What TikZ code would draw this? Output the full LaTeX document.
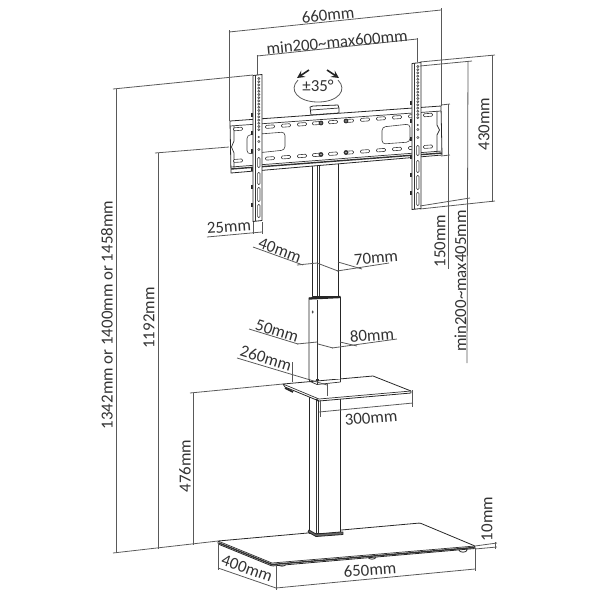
\documentclass[tikz,border=0pt]{standalone}
\usepackage{fontspec}
\setmainfont{Carlito}
\tikzstyle{part} = [draw=black!85, line width=0.45pt, fill=white, line join=round]
\tikzstyle{edge} = [draw=black!80, line width=0.4pt]
\tikzstyle{dark} = [draw=black!85, line width=1pt]
\tikzstyle{slot} = [draw=black!75, line width=0.35pt, rounded corners=0.6pt, fill=white]
\tikzstyle{dimline} = [draw=black!65, line width=0.45pt]
\tikzstyle{dimtext} = [inner sep=0pt, text=black!80, font=\fontsize{9.6}{11}\selectfont]
\tikzstyle{tiltarrow} = [draw=black!85, line width=0.9pt, ->, >=stealth]

\begin{document}
\begin{tikzpicture}[x=0.02cm, y=-0.02cm]
	\useasboundingbox (0,0) rectangle (600,600);

	% base and column
	\foreach \fx/\fy in {282/564, 372/557, 463/550}
		\draw [part] (\fx,\fy) circle [x radius=4, y radius=2.2];
	\draw [part, rounded corners=0.6pt] (218,541) -- (420,523) -- (475,546) -- (475,548.5) -- (272,566) -- (218,544) -- cycle;
	\draw [edge] (218,541) -- (272,563) -- (475,546);
	\draw [edge, line width=0.8pt] (219,543) -- (272,564.5) -- (474,547.5);

	\draw [part] (309,298) rectangle (340.5,533);
	\draw [edge] (316,345) -- (316,536);
	\draw [edge] (318,345) -- (318,536);
	\draw [edge] (317,300) -- (317,345);
	\draw [part, fill=black!60] (308,532) -- (316,536.5) -- (343,534.5) -- (343,532) -- (340,532) -- (316,534) -- (309,530) -- cycle;

	% shelf
	\draw [part] (283,384) -- (373,376) -- (411,391) -- (411,393) -- (319,401) -- (285,387) -- cycle;
	\draw [edge] (283,384) -- (319,399) -- (411,391);
	\draw [dark] (285,388) -- (293,392);
	\draw [dark, line width=0.7pt] (316,399) -- (319,401.5);
	\fill [white] (309.3,300) rectangle (340.2,379);
	\draw [part] (309,379) -- (309,298) -- (340.5,297) -- (340.5,378);
	\draw [edge] (309,381) -- (317,384.5) -- (340.5,382);
	\draw [edge] (309,379) -- (309,381);
	\draw [edge] (340.5,378) -- (340.5,382);
	\draw [edge] (317,300) -- (317,384);
	\draw [dark, line width=1.3pt] (309,298.5) -- (340.5,297);
	\fill [black!70] (312.7,312) circle [x radius=1, y radius=1.6];

	% upper tube
	\draw [part] (312,160) rectangle (338,296);
	\draw [edge] (317,160) -- (317,296);
	\draw [edge] (319,160) -- (319,296);

	% wall plate
	\draw [part] (310,107) -- (313,106) -- (338,105) -- (339,108) -- (339,113) -- (311,115) -- cycle;
	\draw [edge] (311,110) -- (339,108);
	\draw [part] (230,121) -- (441,106) -- (442,155) -- (231,173) -- cycle;
	\draw [edge] (230,126) -- (441,111);
	\draw [edge] (231,167) -- (442,151);
	\draw [edge, line width=0.8pt] (231,169) -- (442,153);
	\draw [edge] (234,126) -- (234,141) -- (231.5,147) -- (234,153) -- (234,168);
	\draw [edge] (437,111) -- (437,125) -- (439.5,130) -- (437,135) -- (437,152);
	\draw [slot, rounded corners=2pt] (247,135) -- (285,132) -- (285,150) -- (247,154) -- cycle;
	\draw [slot, rounded corners=2pt] (382,127) -- (410,124) -- (410,142) -- (382,144) -- cycle;
	\foreach \sx in {238, 270, 286, 302, 317, 333, 349, 365, 381, 397, 413, 428} {
		\pgfmathsetmacro\sya{129-0.0737*(\sx-238)}
		\pgfmathsetmacro\syb{160.7-0.0737*(\sx-238)}
		\draw [slot, rotate around={4.2:(\sx,\sya)}] (\sx-4.5,\sya-1.5) rectangle (\sx+4.5,\sya+1.5);
		\draw [slot, rotate around={4.2:(\sx,\syb)}] (\sx-4.5,\syb-1.5) rectangle (\sx+4.5,\syb+1.5);
	}
	\foreach \bx/\by in {321/123, 346/121, 321/154.5, 346/152.5} {
		\fill [black!80] (\bx,\by) circle [radius=2.4];
		\fill [black!30] (\bx,\by) circle [radius=0.8];
	}

	% uprights
	\foreach \ux/\uy in {253/74.5, 412/62.5} {
		\begin{scope}[shift={(\ux,\uy)}]
			\foreach \ty in {38, 56, 74, 92, 110, 128}
				\draw [dark] (-1,\ty) -- (-1,\ty+4);
			\draw [part] (0,1) -- (9,0) -- (9,146) -- (0,147) -- cycle;
			\draw [edge] (2.5,0.8) -- (2.5,146.8);
			\foreach \hy in {4, 7.2, ..., 58}
				\draw [draw=black!70, line width=0.3pt, fill=black!25] (5.8,\hy) circle [radius=1.1];
			\fill [black!70] (5.8,62.5) circle [radius=1.1];
			\draw [draw=black!70, line width=0.3pt] (5.8,67) circle [radius=1.1];
			\draw [draw=black!70, line width=0.3pt] (5.8,75) circle [radius=1.1];
			\foreach \ya/\yb in {83/93, 98/110, 113/127, 130/143}
				\draw [slot] (4.6,\ya) rectangle (7,\yb);
		\end{scope}
	}

	% tilt mark
	\node (tilt) [dimtext] at (318,86) {±35°};
	\draw [dimline] (298,80) .. controls (288,90) and (298,102) .. (318,102) .. controls (338,102) and (348,90) .. (338,80);
	\draw [tiltarrow] (309,70) -- (297,78);
	\draw [tiltarrow] (327,70) -- (339,78);

	% top dimensions
	\draw [dimline] (229,32) -- (441,10);
	\draw [dimline] (229,30) -- (229,121);
	\draw [dimline] (441,8) -- (441,106);
	\node (w660) [dimtext, rotate=6] at (328,15) {660mm};
	\draw [dimline] (257,56) -- (417,39);
	\draw [dimline] (257,55) -- (257,75);
	\draw [dimline] (417,38) -- (417,62);
	\node (w600) [dimtext, rotate=5.5] at (337,42) {min200\textasciitilde max600mm};

	% right dimensions
	\draw [dimline] (420,62) -- (495,55);
	\draw [dimline] (420,66) -- (472,61);
	\draw [dimline] (420,206) -- (470,198);
	\draw [dimline] (420,209) -- (495,201);
	\draw [dimline] (492,55) -- (492,202);
	\draw [dimline] (468,61) -- (467,363);
	\draw [dimline] (441,105) -- (450,104);
	\draw [dimline] (441,156) -- (450,155);
	\draw [dimline] (448,104) -- (448,269);
	\node (h430) [dimtext, rotate=90] at (484,124) {430mm};
	\node (h150) [dimtext, rotate=90] at (440,241) {150mm};
	\node (h405) [dimtext, rotate=90] at (460.5,281) {min200\textasciitilde max405mm};
	\draw [dimline] (495,542) -- (495,549);
	\draw [dimline] (475,546) -- (497,543);
	\draw [dimline] (475,549) -- (497,547);
	\node (h10) [dimtext, rotate=90] at (487,519) {10mm};

	% left dimensions
	\draw [dimline] (113,89) -- (253,75);
	\draw [dimline] (116,89) -- (116,553);
	\draw [dimline] (155,153) -- (229,147);
	\draw [dimline] (158,153) -- (158,549);
	\draw [dimline] (190,393) -- (283,384);
	\draw [dimline] (193,393) -- (193,545);
	\draw [dimline] (113,553) -- (218,541);
	\node (h1458) [dimtext, rotate=90] at (107,315) {1342mm or 1400mm or 1458mm};
	\node (h1192) [dimtext, rotate=90] at (149,318) {1192mm};
	\node (h476) [dimtext, rotate=90] at (185,466) {476mm};

	% column and shelf dimensions
	\draw [dimline] (207,237) -- (262,232);
	\draw [dimline] (253,222) -- (253,234);
	\draw [dimline] (262,222) -- (262,234);
	\node (w25) [dimtext, rotate=4] at (229,227) {25mm};
	\draw [dimline] (253,247) -- (303,265);
	\draw [dimline] (317,263) -- (338,271);
	\draw [dimline] (297,265) -- (317,263);
	\node (d40) [dimtext, rotate=-20] at (280,250) {40mm};
	\draw [dimline] (337,271) -- (389,263);
	\draw [dimline] (338,262) -- (362,269);
	\node (w70) [dimtext, rotate=5] at (376,258) {70mm};
	\draw [dimline] (249,329) -- (298,344);
	\draw [dimline] (318,344) -- (333,348);
	\draw [dimline] (297,344) -- (317,342);
	\node (d50) [dimtext, rotate=-17] at (277,331) {50mm};
	\draw [dimline] (332,348) -- (397,339);
	\draw [dimline] (340,342) -- (357,346);
	\node (w80) [dimtext, rotate=4] at (372,335) {80mm};
	\draw [dimline] (237,358) -- (327,385);
	\draw [dimline] (292,362) -- (292,382);
	\draw [dimline] (327,383) -- (327,396);
	\node (d260) [dimtext, rotate=-17] at (266,358) {260mm};
	\draw [dimline] (319,412) -- (413,403);
	\draw [dimline] (320,400) -- (320,417);
	\draw [dimline] (412,390) -- (412,407);
	\node (w300) [dimtext, rotate=5] at (371,418) {300mm};

	% base dimensions
	\draw [dimline] (218,543) -- (218,570);
	\draw [dimline] (276,565) -- (276,590);
	\draw [dimline] (475,548) -- (475,571);
	\draw [dimline] (218,568) -- (276,588);
	\draw [dimline] (276,588) -- (475,569);
	\node (d400) [dimtext, rotate=-19.5] at (247,568.5) {400mm};
	\node (w650) [dimtext, rotate=4] at (370,570) {650mm};
\end{tikzpicture}
\end{document}
